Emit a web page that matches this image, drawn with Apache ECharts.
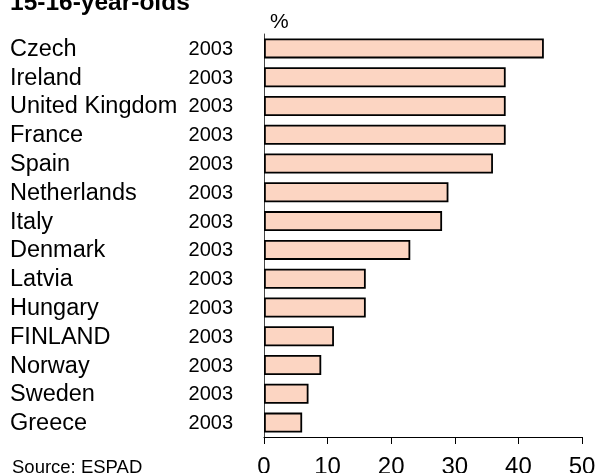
<!DOCTYPE html>
<html><head><meta charset="utf-8">
<script src="https://cdn.jsdelivr.net/npm/echarts@6/dist/echarts.min.js"></script>
<style>html,body{margin:0;padding:0;background:#fff}#c{width:602px;height:473px}</style>
</head><body><div id="c"></div>
<script>
const countries = ["Czech","Ireland","United Kingdom","France","Spain","Netherlands","Italy","Denmark","Latvia","Hungary","FINLAND","Norway","Sweden","Greece"];
const years = ["2003","2003","2003","2003","2003","2003","2003","2003","2003","2003","2003","2003","2003","2003"];
const values = [44,38,38,38,36,29,28,23,16,16,11,9,7,6];
const xTicks = {min:0,max:50,interval:10};

const chart = echarts.init(document.getElementById('c'), null, {renderer:'canvas'});
const F = 'Liberation Sans, Arial, sans-serif';
chart.setOption({
  animation:false,
  grid:{left:264,right:20,top:34,bottom:36,containLabel:false,outerBoundsMode:'none'},
  graphic:[
    {type:'text',left:10,top:-9,style:{text:'15-16-year-olds',font:'bold 24.5px '+F,fill:'#000'}},
    {type:'text',left:270,top:12,style:{text:'%',font:'21px '+F,fill:'#000'}},
    {type:'text',left:12,top:458,style:{text:'Source: ESPAD',font:'18.5px '+F,fill:'#000'}}
  ],
  xAxis:{type:'value',min:xTicks.min,max:xTicks.max,interval:xTicks.interval,
    axisLine:{show:true,lineStyle:{color:'#000',width:1}},
    axisTick:{show:true,length:7,lineStyle:{color:'#000'}},
    splitLine:{show:false},
    axisLabel:{color:'#000',fontSize:24,fontFamily:F,margin:18}},
  yAxis:{type:'category',inverse:true,data:countries.map((c,i)=>c+'|'+years[i]),
    axisLine:{show:true,lineStyle:{color:'#444',width:1}},
    axisTick:{show:false},
    axisLabel:{align:'left',margin:254,
      formatter:function(v){const p=v.split('|');return '{a|'+p[0]+'}{b|'+p[1]+'}';},
      rich:{a:{width:178,align:'left',fontSize:23.5,fontFamily:F,color:'#000',padding:[2,0,0,0]},
            b:{width:45,align:'right',fontSize:20,fontFamily:F,color:'#000',padding:[2,0,0,0]}}}},
  series:[{type:'bar',data:values,barWidth:20,
    itemStyle:{color:'#FCD5C2',borderColor:'#000',borderWidth:1.8}}]
});
</script></body></html>
